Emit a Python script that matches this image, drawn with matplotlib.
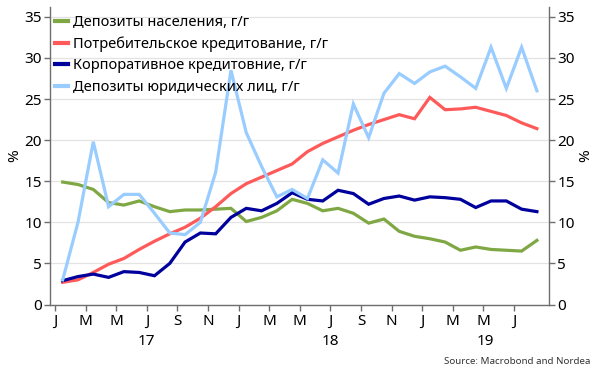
import matplotlib
matplotlib.use("Agg")
import matplotlib.pyplot as plt
import numpy as np

plt.rcParams['font.family'] = ['Noto Sans', 'DejaVu Sans']

# Monthly data, Jan 2017 .. Aug 2019
months = ['J', 'F', 'M', 'A', 'M', 'J', 'J', 'A', 'S', 'O', 'N', 'D']
years = ['17', '18', '19']

household_deposits = [14.9, 14.6, 14.0, 12.4, 12.1, 12.6, 11.9, 11.3, 11.5, 11.5, 11.6, 11.7,
                      10.1, 10.6, 11.4, 12.8, 12.3, 11.4, 11.7, 11.1, 9.9, 10.4, 8.9, 8.3,
                      8.0, 7.6, 6.6, 7.0, 6.7, 6.6, 6.5, 7.8]
consumer_lending = [2.7, 3.0, 3.9, 4.9, 5.6, 6.7, 7.7, 8.6, 9.4, 10.5, 11.9, 13.5,
                    14.7, 15.5, 16.3, 17.1, 18.6, 19.6, 20.4, 21.2, 21.9, 22.5, 23.1, 22.6,
                    25.2, 23.7, 23.8, 24.0, 23.5, 23.0, 22.1, 21.4]
corporate_lending = [2.9, 3.4, 3.7, 3.3, 4.0, 3.9, 3.5, 5.0, 7.6, 8.7, 8.6, 10.6,
                     11.7, 11.4, 12.3, 13.6, 12.8, 12.6, 13.9, 13.5, 12.2, 12.9, 13.2, 12.7,
                     13.1, 13.0, 12.8, 11.8, 12.6, 12.6, 11.6, 11.3]
corporate_deposits = [3.0, 10.0, 19.8, 11.9, 13.4, 13.4, 11.1, 8.7, 8.5, 10.0, 16.1, 28.5,
                      20.9, 16.8, 13.1, 14.0, 12.9, 17.6, 16.0, 24.4, 20.3, 25.7, 28.1, 26.9,
                      28.3, 29.0, 27.7, 26.3, 31.3, 26.3, 31.3, 26.0]

labels = ['Депозиты населения, г/г',
          'Потребительское кредитование, г/г',
          'Корпоративное кредитовние, г/г',
          'Депозиты юридических лиц, г/г']
colors = ['#7FA845', '#FF5A5A', '#00009C', '#99CCFF']
series = [household_deposits, consumer_lending, corporate_lending, corporate_deposits]

n = len(household_deposits)
x = np.arange(n) + 0.5

fig = plt.figure(figsize=(6.0, 3.78), dpi=100)
ax = fig.add_axes([50/600, 1-304.5/378, 499/600, 297.5/378])

for s, c, l in zip(series, colors, labels):
    ax.plot(x, s, color=c, lw=2.3, label=l, solid_joinstyle='miter')

ax.set_xlim(-0.33, 32.29)
ax.set_ylim(0, 36.2)
ax.set_yticks(np.arange(0, 36, 5))
ax.grid(axis='y', color='#E3E3E3', lw=0.9)
ax.set_axisbelow(True)

tick_pos = np.arange(0, 32, 2)
ax.set_xticks(tick_pos)
ax.set_xticklabels([months[p % 12] for p in tick_pos])

spine_c = '#6E6E6E'
for side in ['left', 'bottom', 'right']:
    ax.spines[side].set_color(spine_c)
    ax.spines[side].set_linewidth(1.0)
ax.spines['top'].set_visible(False)

ax.tick_params(axis='both', colors=spine_c, labelcolor='black', labelsize=11, length=4, width=1)
ax.tick_params(axis='y', left=True, right=True, labelleft=True, labelright=True, pad=2)
ax.tick_params(axis='x', pad=3)

fig.text(15/600, 1-156/378, '%', rotation=90, ha='center', va='center', fontsize=11)
fig.text(586/600, 1-156/378, '%', rotation=90, ha='center', va='center', fontsize=11)

# year labels
year_centers = [6, 18, 28.15]
for yc, yl in zip(year_centers, years):
    ax.annotate(yl, xy=(yc, 0), xycoords=('data', 'axes fraction'),
                xytext=(0, -21), textcoords='offset points',
                ha='center', va='top', fontsize=11)

leg = ax.legend(loc='upper left', bbox_to_anchor=(0.01, 0.972), frameon=False,
                fontsize=10.5, handlelength=0.9, handletextpad=0.35,
                labelspacing=0.43, borderpad=0, borderaxespad=0)
for h in leg.get_lines():
    h.set_linewidth(3)

fig.text(590/600, 1-362/378, 'Source: Macrobond and Nordea', ha='right', va='center',
         fontsize=7.0, color='#333333')

fig.savefig('out.png', dpi=100)
